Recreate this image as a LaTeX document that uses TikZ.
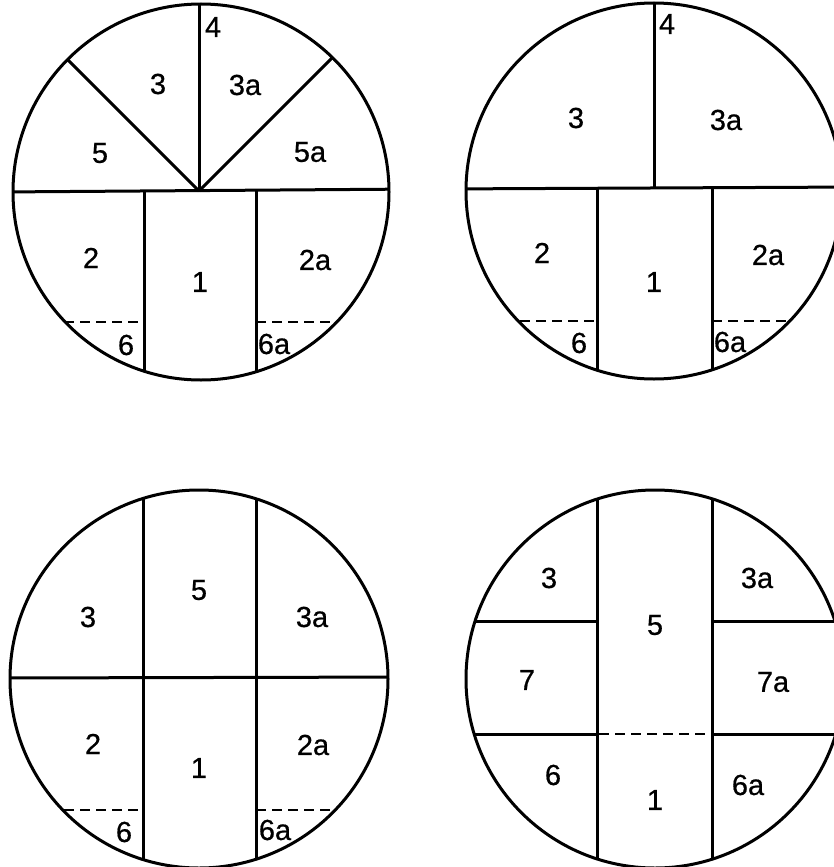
\documentclass[tikz,border=0pt]{standalone}
\usepackage{fontspec}
\setmainfont{Liberation Sans}[UprightFeatures={FakeBold=0.6}]
\begin{document}
\begin{tikzpicture}[x=1pt,y=-1pt,line width=3pt,line cap=butt,
  lab/.style={font=\fontsize{29}{32}\selectfont,inner sep=0pt},
  cut/.style={line width=2.8pt,dash pattern=on 10pt off 6pt}]
\useasboundingbox (0,0) rectangle (834,867);
\clip (0,0) rectangle (834,867);

% ---------- top left ----------
\coordinate (A) at (201,192);
\begin{scope}
  \clip (A) circle (188pt);
  \draw (0,192) -- (420,189);
  \draw (199,0) -- (199,191);
  \draw (199,191) -- ++(-300,-300);
  \draw (199,191) -- ++(300,-300);
  \draw (144,191) -- (144,420);
  \draw (256,190) -- (256,420);
  \draw[cut] (0,322) -- (144,322);
  \draw[cut] (256,322) -- (420,322);
\end{scope}
\draw (A) circle (188pt);
\node[lab] (a4) at (213,27) {4};
\node[lab] (a3) at (158,84) {3};
\node[lab] (a3a) at (245,85) {3a};
\node[lab] (a5) at (100,153) {5};
\node[lab] (a5a) at (310,152) {5a};
\node[lab] (a2) at (91,258) {2};
\node[lab] (a1) at (200,282) {1};
\node[lab] (a2a) at (315,260) {2a};
\node[lab] (a6) at (126,345) {6};
\node[lab] (a6a) at (274,344) {6a};

% ---------- top right ----------
\coordinate (B) at (654,191);
\begin{scope}
  \clip (B) circle (188pt);
  \draw (440,189) -- (860,187);
  \draw (654,0) -- (654,188);
  \draw (597,188) -- (597,420);
  \draw (712,188) -- (712,420);
  \draw[cut] (440,321) -- (597,321);
  \draw[cut] (712,321) -- (860,321);
\end{scope}
\draw (B) circle (188pt);
\node[lab] (b4) at (667,24) {4};
\node[lab] (b3) at (576,118) {3};
\node[lab] (b3a) at (726,120) {3a};
\node[lab] (b2) at (542,253) {2};
\node[lab] (b1) at (654,282) {1};
\node[lab] (b2a) at (768,255) {2a};
\node[lab] (b6) at (579,343) {6};
\node[lab] (b6a) at (730,342) {6a};

% ---------- bottom left ----------
\coordinate (C) at (199,679);
\begin{scope}
  \clip (C) circle (189pt);
  \draw (0,678) -- (420,677);
  \draw (143,460) -- (143,900);
  \draw (256,460) -- (256,900);
  \draw[cut] (0,810) -- (143,810);
  \draw[cut] (256,810) -- (420,810);
\end{scope}
\draw (C) circle (189pt);
\node[lab] (c3) at (88,617) {3};
\node[lab] (c5) at (199,590) {5};
\node[lab] (c3a) at (312,617) {3a};
\node[lab] (c2) at (93,744) {2};
\node[lab] (c1) at (199,768) {1};
\node[lab] (c2a) at (313,745) {2a};
\node[lab] (c6) at (124,832) {6};
\node[lab] (c6a) at (275,830) {6a};

% ---------- bottom right ----------
\coordinate (D) at (655,679);
\begin{scope}
  \clip (D) circle (189pt);
  \draw (597,460) -- (597,900);
  \draw (712,460) -- (712,900);
  \draw (440,621) -- (597,621);
  \draw (712,621) -- (860,621);
  \draw (440,734) -- (597,734);
  \draw (712,734) -- (860,734);
  \draw[cut] (599,734) -- (710,734);
\end{scope}
\draw (D) circle (189pt);
\node[lab] (d3) at (549,578) {3};
\node[lab] (d3a) at (757,578) {3a};
\node[lab] (d5) at (655,625) {5};
\node[lab] (d7) at (527,680) {7};
\node[lab] (d7a) at (773,682) {7a};
\node[lab] (d6) at (553,775) {6};
\node[lab] (d1) at (655,800) {1};
\node[lab] (d6a) at (748,785) {6a};
\end{tikzpicture}
\end{document}
